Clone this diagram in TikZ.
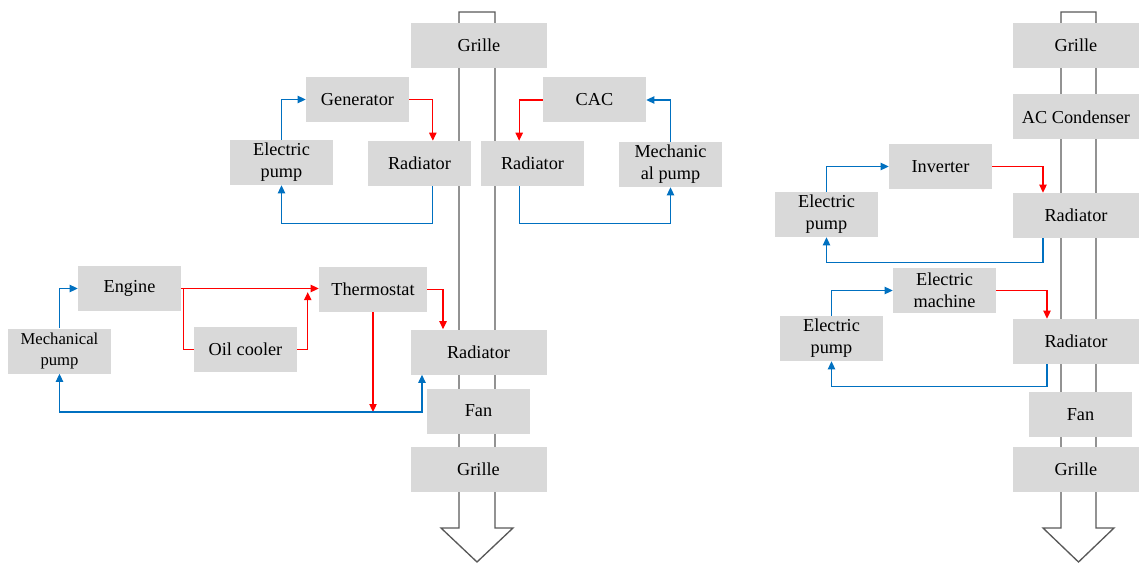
\documentclass[tikz,border=0pt]{standalone}
\usepackage{fontspec}
\setmainfont{Liberation Serif}
\usetikzlibrary{arrows.meta}
\definecolor{boxgray}{HTML}{D9D9D9}
\definecolor{coolblue}{HTML}{0070C0}
\definecolor{hotred}{HTML}{FF0000}
\definecolor{ductgray}{HTML}{595959}

\begin{document}
\begin{tikzpicture}[x=0.75pt,y=-0.75pt]
				\tikzstyle{box}=[fill=boxgray,inner sep=1pt,minimum width=77.25pt,minimum height=33.75pt,
				align=center,font=\fontsize{13.7}{16.5}\selectfont]
				\tikzstyle{wide}=[box,minimum width=102pt]
				\tikzstyle{rwide}=[box,minimum width=94.5pt]
				\tikzstyle{duct}=[draw=ductgray,line width=1pt,fill=white]
				\tikzstyle{hot}=[hotred,line width=0.9pt,-{Triangle[length=6pt,width=5.5pt]}]
				\tikzstyle{cold}=[coolblue,line width=0.9pt,-{Triangle[length=6pt,width=5.5pt]}]
				\useasboundingbox (0,0) rectangle (1139,563);
				\draw[duct] (459,528) -- (459,12) -- (495,12) -- (495,528) -- (513,528) -- (477,562) -- (441,528) -- cycle;
				\draw[duct] (1061,528) -- (1061,12) -- (1096,12) -- (1096,528) -- (1114,528) -- (1078.5,562) -- (1043,528) -- cycle;
				\node[wide] (grilleA) at (479,45.5) {Grille};
				\node[box] (gen) at (357.5,99.5) {Generator};
				\node[box] (epumpA) at (281.5,162.5) {Electric\\pump};
				\node[box] (radA) at (419.5,163.5) {Radiator};
				\node[box] (radB) at (532.5,163.5) {Radiator};
				\node[box] (cac) at (594.5,100) {CAC};
				\node[box] (mpumpA) at (670.5,164.5) {Mechanic\\al pump};
				\node[box] (engine) at (129.5,288.5) {Engine};
				\node[box,font=\fontsize{12.5}{15.5}\selectfont] (mpumpB) at (59.5,351) {Mechanical\\pump};
				\node[box] (oilc) at (245.5,349.5) {Oil cooler};
				\node[box,minimum width=81pt] (thermo) at (373,289.5) {Thermostat};
				\node[wide] (radC) at (478.5,352) {Radiator};
				\node[box] (fanA) at (478.5,411) {Fan};
				\node[wide] (grilleB) at (478.5,469.5) {Grille};
				\node[rwide] (grilleC) at (1076,45.5) {Grille};
				\node[rwide] (acc) at (1076,117) {AC Condenser};
				\node[box] (inv) at (940.5,166.5) {Inverter};
				\node[box] (epumpC) at (826.5,214.5) {Electric\\pump};
				\node[rwide] (radD) at (1076,215.5) {Radiator};
				\node[box] (emach) at (944.5,290.5) {Electric\\machine};
				\node[box] (epumpD) at (831.5,338.5) {Electric\\pump};
				\node[rwide] (radE) at (1076,341.5) {Radiator};
				\node[box] (fanB) at (1080.5,414.5) {Fan};
				\node[rwide] (grilleD) at (1076,469.5) {Grille};
				\coordinate (bus) at (373,412);
				\draw[cold] (epumpA.north) |- (gen.west);
				\draw[hot] (gen.east) -| ([xshift=10pt]radA.north);
				\draw[cold] ([xshift=10pt]radA.south) -- ++(0,37) -| (epumpA.south);
				\draw[hot] (cac.west) -| ([xshift=-10pt]radB.north);
				\draw[cold] (mpumpA.north) |- (cac.east);
				\draw[cold] ([xshift=-10pt]radB.south) -- ++(0,37) -| (mpumpA.south);
				\draw[cold] (mpumpB.north) |- (engine.west);
				\draw[hot] (engine.east) -- (engine.east -| thermo.west);
				\draw[hot,-] ([xshift=1.5pt]engine.east) |- (oilc.west);
				\draw[hot] (oilc.east) -| ([xshift=-8.25pt,yshift=-2pt]thermo.west);
				\draw[hot] (thermo.east) -| ([xshift=-26.6pt]radC.north);
				\draw[hot] (thermo.south) -- (bus);
				\draw[cold] (bus) -| (mpumpB.south);
				\draw[cold] (bus) -| ([xshift=-42.4pt]radC.south);
				\draw[cold] (epumpC.north) |- (inv.west);
				\draw[hot] (inv.east) -| ([xshift=-24.75pt]radD.north);
				\draw[cold] ([xshift=-24.75pt]radD.south) -- ++(0,24) -| (epumpC.south);
				\draw[cold] (epumpD.north) |- (emach.west);
				\draw[hot] (emach.east) -| ([xshift=-21.75pt]radE.north);
				\draw[cold] ([xshift=-21.75pt]radE.south) -- ++(0,22) -| (epumpD.south);
\end{tikzpicture}
\end{document}
